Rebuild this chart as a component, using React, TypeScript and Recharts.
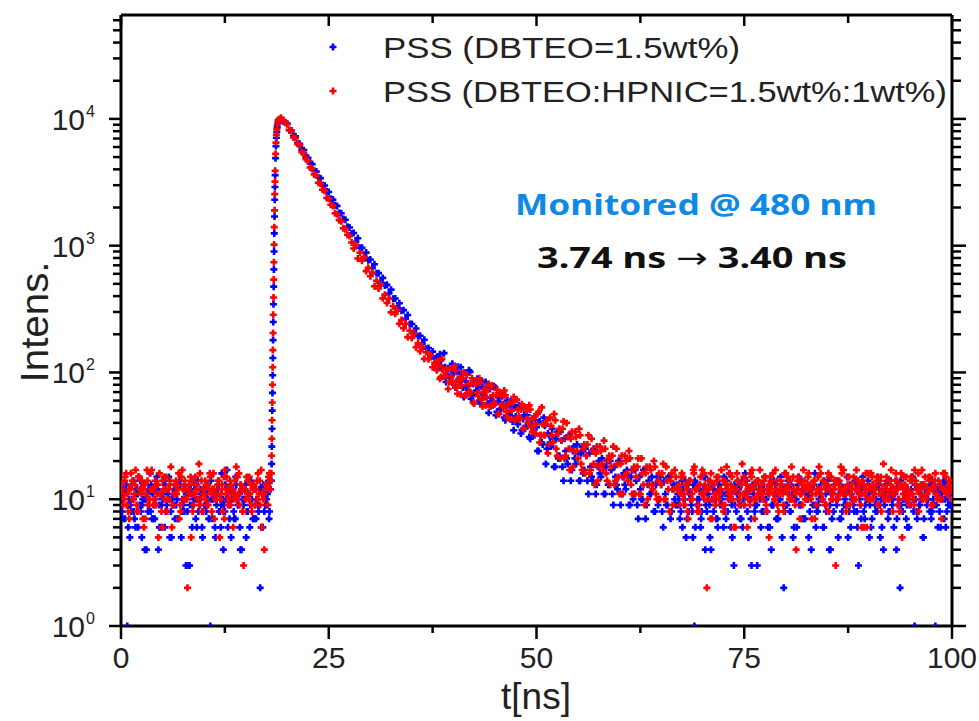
import { ScatterChart, Scatter, XAxis, YAxis } from 'recharts'

// TCSPC decay, one count per channel starting at t = 0
const CHANNEL_NS = 0.25

const blueCounts = [
  9, 12, 7, 1, 10, 8, 14, 6, 11, 9, 5, 13, 10, 8, 16, 7, 9, 12, 4, 11,
  10, 6, 9, 15, 8, 11, 7, 10, 13, 5, 9, 12, 8, 3, 11, 10, 7, 14, 9, 6,
  12, 8, 10, 1, 7, 11, 9, 13, 6, 10, 8, 17, 9, 5, 12, 7, 10, 11, 4, 9,
  13, 8, 6, 10, 12, 7, 9, 2, 11, 8, 10, 14,
  12, 95, 2300, 7900, 9650, 9950, 9600, 9350,
  9170, 8150, 8110, 7350, 7290, 6440, 6360, 5730, 5670, 5000, 4940, 4450, 4400, 3880, 3840, 3450,
  3410, 3010, 2980, 2690, 2650, 2340, 2310, 2080, 2060, 1810, 1800, 1620, 1600, 1410, 1390, 1250,
  1260, 1074, 1145, 963, 961, 811, 882, 769, 778, 665, 714, 605, 607, 512, 557, 485,
  491, 420, 450, 382, 383, 323, 351, 307, 310, 265, 284, 241, 241, 203, 222, 193,
  195, 168, 181, 154, 156, 133, 146, 129, 132, 115, 125, 108, 110, 96, 107, 96,
  103, 76, 111, 85, 97, 64, 85, 73, 101, 66, 86, 72, 78, 57, 84, 64, 74, 48, 63, 55,
  76, 49, 63, 52, 56, 42, 60, 46, 53, 35, 45, 39, 54, 35, 46, 38, 40, 30, 43, 32,
  37, 24, 32, 27, 38, 25, 32, 26,
  30, 18, 34, 22, 29, 14, 24, 19, 32, 17, 26, 19, 23, 14, 26, 17, 22, 11, 18, 14,
  24, 13, 20, 15, 18, 11, 20, 13, 17, 9, 15, 12, 20, 11, 16, 12, 15, 9, 17, 11,
  14, 7, 12, 10, 17, 9, 14, 11, 13, 8, 15, 10, 13, 6, 11, 9, 15, 8, 13, 9,
  11, 7, 14, 9, 5, 12, 10, 8, 1, 13, 9, 6, 11, 15, 8, 10, 4, 12, 9, 7,
  13, 10, 6, 11, 8, 16, 9, 3, 12, 10, 7, 14, 9, 11, 5, 10, 13, 8, 9, 12,
  6, 10, 15, 8, 11, 4, 9, 13, 7, 10, 12, 2, 9, 14, 8, 11, 6, 10, 13, 9,
  7, 12, 10, 5, 11, 9, 16, 8, 10, 13, 6, 9, 12, 4, 11, 8, 14, 10, 7, 12,
  9, 11, 5, 13, 10, 8, 12, 3, 9, 15, 7, 10, 11, 6, 13, 9, 8, 12, 10, 4,
  11, 14, 8, 10, 6, 12, 9, 2, 13, 10, 7, 11, 9, 15, 1, 8, 12, 10, 5, 11,
  9, 13, 7, 10, 1, 12, 8, 11, 14, 6, 10, 9, 12,
]

const redCounts = [
  12, 9, 15, 11, 7, 13, 10, 17, 8, 12, 14, 6, 11, 9, 16, 12, 10, 13, 5, 11,
  14, 10, 8, 12, 18, 9, 11, 13, 7, 15, 10, 12, 2, 11, 14, 9, 13, 10, 16, 8,
  11, 13, 9, 15, 12, 7, 10, 14, 11, 8, 17, 12, 10, 13, 6, 11, 15, 9, 12, 3,
  10, 14, 11, 8, 13, 12, 16, 9, 11, 4, 13, 15,
  14, 110, 2550, 8300, 9950, 10200, 9800, 9330,
  9080, 8190, 8090, 7140, 7060, 6330, 6210, 5450, 5360, 4800, 4710, 4140, 4060, 3650, 3570, 3140,
  3080, 2760, 2710, 2380, 2340, 2100, 2060, 1800, 1770, 1590, 1560, 1370, 1350, 1220, 1190, 1060,
  949, 1018, 792, 879, 762, 812, 630, 669, 574, 613, 478, 529, 460, 493, 384, 411,
  353, 381, 298, 333, 290, 311, 242, 259, 223, 242, 190, 213, 187, 202, 158, 170,
  147, 160, 128, 144, 127, 137, 110, 119, 104, 114, 92, 105, 94, 105, 84, 93,
  82, 103, 68, 91, 79, 100, 66, 81, 68, 90, 57, 81, 65, 83, 54, 74, 64, 81, 54, 66,
  56, 73, 47, 66, 53, 66, 44, 58, 50, 64, 43, 51, 43, 56, 36, 50, 40, 51, 34, 45,
  39, 49, 32, 39, 32, 42, 27, 38,
  28, 42, 22, 36, 29, 41, 22, 31, 17, 34, 24, 31, 21, 32, 17, 27, 22, 32, 17, 24,
  13, 26, 18, 24, 17, 25, 14, 22, 18, 26, 14, 19, 11, 22, 15, 20, 14, 21, 11, 18,
  15, 21, 11, 16, 9, 18, 13, 17, 12, 18, 10, 16, 13, 19, 10, 14, 8, 16, 12, 15,
  12, 9, 16, 11, 13, 7, 14, 10, 18, 12, 8, 15, 11, 13, 2, 12, 16, 10, 9, 14,
  11, 17, 8, 13, 12, 10, 15, 6, 12, 14, 11, 19, 9, 13, 10, 16, 12, 7, 14, 11,
  13, 10, 15, 12, 5, 14, 11, 17, 9, 12, 13, 8, 16, 11, 14, 10, 12, 4, 15, 11,
  9, 14, 12, 16, 10, 13, 7, 12, 18, 11, 14, 9, 13, 15, 10, 12, 3, 14, 11, 16,
  12, 8, 15, 11, 13, 10, 17, 12, 9, 14, 11, 6, 13, 16, 10, 12, 15, 11, 8, 19,
  13, 10, 14, 12, 11, 16, 9, 13, 5, 12, 15, 10, 14, 11, 17, 12, 8, 13, 10, 15,
  11, 14, 9, 12, 16, 10, 13, 7, 12, 15, 11, 14, 10,
]

// in-between channels, 0.25 ns apart, where the record is a wide noisy band:
// before the pulse, the slow part of the decay (from 38.125 ns) and the tail
const blueBgPre = [
  8, 11, 13, 6, 9, 10, 7, 12, 15, 8, 10, 4, 11, 9, 13, 7, 10, 12, 6, 9,
  14, 8, 11, 5, 10, 12, 9, 7, 13, 10, 8, 11, 3, 12, 9, 14, 6, 10, 11, 8,
  9, 13, 7, 10, 12, 5, 11, 8, 16, 9, 10, 6, 12, 11, 7, 13, 9, 4, 10, 12,
  8, 11, 14, 7, 9, 10, 12, 6, 13, 9, 11, 8,
]
const blueBgPre2 = [
  10, 7, 12, 9, 5, 13, 8, 11, 6, 14, 9, 10, 4, 12, 8, 11, 7, 15, 9, 6,
  11, 13, 8, 10, 5, 9, 12, 7, 14, 8, 10, 3, 11, 9, 6, 13, 10, 8, 12, 5,
  9, 11, 7, 14, 10, 6, 12, 8, 9, 4, 13, 11, 7, 10, 8, 15, 9, 6, 12, 10,
  5, 11, 9, 13, 7, 10, 8, 12, 6, 11, 9, 7,
]
const redBgPre = [
  13, 10, 16, 8, 12, 14, 11, 9, 15, 12, 7, 13, 17, 10, 12, 9, 14, 11, 16, 8,
  12, 15, 10, 13, 6, 11, 14, 12, 9, 17, 13, 10, 12, 15, 8, 11, 13, 19, 10, 12,
  14, 9, 12, 11, 16, 10, 13, 5, 12, 15, 11, 9, 14, 12, 10, 18, 11, 13, 8, 12,
  15, 10, 13, 12, 9, 14, 11, 17, 10, 12, 13, 16,
]
const redBgPre2 = [
  11, 14, 9, 12, 16, 10, 13, 8, 15, 11, 12, 7, 14, 10, 17, 12, 9, 13, 11, 6,
  15, 12, 10, 14, 9, 13, 11, 16, 8, 12, 14, 10, 13, 5, 11, 15, 12, 9, 14, 11,
  10, 13, 16, 8, 12, 11, 14, 10, 13, 7, 15, 12, 9, 11, 14, 10, 16, 13, 8, 12,
  11, 15, 9, 13, 12, 10, 14, 6, 11, 13, 9, 12,
]
const blueMid = [
  108, 139, 107, 142, 84, 108, 91, 117, 80, 101, 88, 110, 76, 99, 78, 104, 62, 81, 69, 89,
  60, 77, 67, 84, 57, 74, 59, 78, 46, 59, 51, 65, 44, 55, 48, 59, 41, 53, 42, 55,
  33, 43, 36, 46, 31, 39, 34, 42, 24, 41, 28, 44, 19, 33, 28, 36, 18, 30, 21, 34,
  18, 30, 21, 32, 14, 24, 21, 27, 14, 23, 16, 25, 14, 23, 15, 25, 11, 18, 16, 21,
  11, 18, 13, 20, 11, 18, 13, 20, 9, 15, 13, 17, 9, 15, 10, 17, 9, 15, 10, 17,
  7, 13, 11, 15, 8, 13, 9, 15, 8, 14, 9, 15, 7, 12, 10, 13,
]
const redMid = [
  123, 89, 128, 93, 105, 74, 107, 86, 112, 76, 87, 67, 90, 66, 96, 71, 82, 58, 84, 69,
  90, 61, 70, 55, 73, 54, 79, 58, 66, 47, 69, 56, 72, 49, 56, 43, 58, 42, 61, 45,
  51, 36, 53, 43, 55, 37, 43, 33, 47, 28, 53, 32, 39, 23, 44, 32, 47, 25, 33, 21,
  36, 21, 40, 25, 30, 18, 34, 24, 36, 19, 25, 16, 27, 16, 30, 19, 23, 14, 26, 19,
  29, 16, 20, 13, 22, 13, 25, 15, 19, 11, 22, 16, 24, 13, 17, 11, 18, 11, 21, 13,
  16, 10, 18, 13, 20, 11, 14, 10, 16, 10, 18, 12, 14, 9, 17, 12,
]
const blueBgTail = [
  10, 8, 12, 14, 7, 11, 9, 13, 6, 10, 12, 8, 15, 9, 11, 5, 10, 13, 7, 12,
  9, 11, 8, 14, 10, 6, 12, 9, 11, 13, 7, 10, 16, 8, 12, 3, 11, 9, 14, 10,
  8, 12, 10, 6, 13, 9, 11, 7, 10, 15, 12, 8, 9, 11, 13, 5, 10, 12, 9, 14,
  7, 11, 10, 8, 12, 13, 6, 9, 11, 10, 14, 8, 12, 4, 10, 13, 9, 11, 7, 12,
  10, 15, 8, 11, 9, 13, 6, 10, 12, 8, 11, 14, 9, 7, 12, 10, 13, 5, 11, 9,
  12, 8, 14, 10, 11, 7, 13, 9, 10, 12, 6, 11, 15, 8, 10, 12, 9, 13, 7, 11,
  10, 14, 8, 12, 9, 11, 6, 13, 10, 8, 12, 9,
]
const blueBgTail2 = [
  9, 12, 6, 10, 13, 8, 11, 5, 14, 9, 10, 7, 12, 4, 11, 9, 13, 8, 10, 6,
  12, 9, 15, 7, 11, 10, 5, 13, 8, 12, 9, 6, 11, 14, 10, 7, 12, 9, 3, 11,
  13, 8, 10, 12, 6, 9, 14, 11, 7, 10, 5, 12, 9, 13, 8, 11, 10, 6, 15, 9,
  12, 7, 10, 11, 4, 13, 9, 8, 12, 10, 6, 11, 14, 9, 7, 12, 10, 5, 13, 8,
  11, 9, 12, 6, 10, 14, 8, 11, 7, 13, 9, 10, 5, 12, 11, 8, 15, 9, 6, 10,
  13, 7, 11, 9, 12, 4, 10, 14, 8, 11, 9, 6, 12, 10, 13, 7, 9, 11, 5, 12,
  10, 8, 14, 9, 11, 6, 12, 10, 7, 13, 9, 11,
]
const redBgTail = [
  13, 11, 15, 9, 12, 14, 10, 17, 12, 8, 13, 11, 16, 12, 10, 14, 7, 13, 11, 15,
  12, 9, 14, 18, 11, 13, 10, 12, 16, 9, 13, 11, 14, 6, 12, 15, 10, 13, 11, 17,
  12, 14, 9, 11, 15, 13, 10, 12, 8, 14, 11, 16, 12, 13, 10, 15, 9, 12, 14, 11,
  17, 10, 13, 12, 7, 14, 11, 15, 12, 10, 13, 9, 16, 12, 11, 14, 10, 13, 18, 11,
  12, 9, 15, 13, 10, 12, 14, 11, 6, 13, 16, 10, 12, 15, 11, 13, 9, 14, 12, 10,
  15, 11, 13, 8, 12, 14, 10, 16, 11, 13, 12, 9, 15, 10, 14, 12, 11, 17, 13, 10,
  12, 15, 9, 13, 11, 14, 10, 12, 16, 11, 13, 12,
]
const redBgTail2 = [
  12, 15, 10, 13, 8, 14, 11, 16, 12, 9, 13, 17, 10, 12, 14, 7, 13, 11, 15, 10,
  12, 14, 9, 13, 16, 11, 12, 6, 14, 10, 13, 15, 11, 12, 9, 17, 13, 10, 14, 12,
  11, 15, 8, 13, 12, 16, 10, 14, 11, 13, 9, 12, 15, 10, 18, 12, 11, 14, 7, 13,
  12, 10, 15, 13, 11, 14, 9, 12, 16, 10, 13, 12, 8, 15, 11, 13, 10, 14, 12, 17,
  11, 13, 9, 12, 15, 10, 14, 13, 11, 6, 12, 16, 10, 13, 12, 14, 9, 15, 11, 13,
  12, 10, 17, 11, 14, 12, 8, 13, 15, 10, 12, 11, 14, 9, 13, 16, 12, 10, 13, 11,
  15, 12, 9, 14, 11, 13, 10, 16, 12, 11, 14, 12,
]

// extra points
const riseTimes = [18.1, 18.125, 18.15, 18.175, 18.2, 18.225, 18.275, 18.3, 18.325, 18.35, 18.375, 18.4, 18.425, 18.45, 18.475, 18.525, 18.55, 18.6, 18.65, 18.7, 18.8, 18.9]
const blueRise = [14, 19, 26, 36, 50, 69, 130, 180, 250, 345, 475, 650, 900, 1250, 1700, 2900, 3600, 4900, 6100, 7100, 8600, 9300]
const redRise = [16, 22, 30, 42, 58, 80, 150, 205, 285, 390, 540, 740, 1020, 1400, 1900, 3200, 3900, 5300, 6500, 7500, 9000, 9700]

const seriesNames = ['PSS (DBTEO=1.5wt%)', 'PSS (DBTEO:HPNIC=1.5wt%:1wt%)']
const xMajorTicks = [0, 25, 50, 75, 100]
const xMinorTicks = [12.5, 37.5, 62.5, 87.5]
const yDecades = [1, 10, 100, 1000, 10000]
const Y_MAX = 66000

const BLUE = '#0000ff'
const RED = '#ff0000'
const FONT = '"Liberation Sans", Arial, sans-serif'

const xTicks = [...xMajorTicks, ...xMinorTicks].sort((a, b) => a - b)
const yTicks = yDecades
  .flatMap((d) => [1, 2, 3, 4, 5, 6, 7, 8, 9].map((k) => k * d))
  .filter((v) => v <= Y_MAX)

type Pt = { t: number; c: number }

function bgPoints(start: number, counts: number[]): Pt[] {
  return counts.map((c, i) => ({ t: start + i * CHANNEL_NS, c }))
}

function toPoints(counts: number[], rise: number[], extra: Pt[]) {
  const pts: Pt[] = counts.map((c, i) => ({ t: i * CHANNEL_NS, c }))
  riseTimes.forEach((t, i) => pts.push({ t, c: rise[i] }))
  return [...pts, ...extra].filter((p) => p.c > 0)
}

const bluePoints = toPoints(blueCounts, blueRise, [
  ...bgPoints(0.125, blueBgPre),
  ...bgPoints(0.0625, blueBgPre2),
  ...bgPoints(38.125, blueMid),
  ...bgPoints(67.125, blueBgTail),
  ...bgPoints(67.0625, blueBgTail2),
])
const redPoints = toPoints(redCounts, redRise, [
  ...bgPoints(0.125, redBgPre),
  ...bgPoints(0.1875, redBgPre2),
  ...bgPoints(38.125, redMid),
  ...bgPoints(67.125, redBgTail),
  ...bgPoints(67.1875, redBgTail2),
])

const plusShape = (color: string) => (p: any) => (
  <path
    d={`M${p.cx - 3.5},${p.cy}h7M${p.cx},${p.cy - 3.5}v7`}
    stroke={color}
    strokeWidth={2.6}
    fill="none"
  />
)

function BottomTick({ x, y, payload }: any) {
  const major = xMajorTicks.includes(payload.value)
  return (
    <g>
      <line x1={x} x2={x} y1={y} y2={y + (major ? 13 : 7)} stroke="#000" strokeWidth={2.5} />
      {major && (
        <text x={x} y={y + 42} textAnchor="middle" fontSize={30} fill="#222" fontFamily={FONT}>
          {payload.value}
        </text>
      )}
    </g>
  )
}

function TopTick({ x, y, payload }: any) {
  const major = xMajorTicks.includes(payload.value)
  return <line x1={x} x2={x} y1={y} y2={y + (major ? 11 : 8)} stroke="#000" strokeWidth={2.5} />
}

function LeftTick({ x, y, payload }: any) {
  const v = payload.value
  const major = yDecades.includes(v)
  return (
    <g>
      <line x1={x} x2={x - (major ? 12 : 8)} y1={y} y2={y} stroke="#000" strokeWidth={2.5} />
      {major && (
        <>
          <text x={x - 36} y={y + 11} textAnchor="end" fontSize={30} fill="#222" fontFamily={FONT}>
            10
          </text>
          <text x={x - 35} y={y - 2} fontSize={16} fill="#222" fontFamily={FONT}>
            {Math.round(Math.log10(v))}
          </text>
        </>
      )}
    </g>
  )
}

function RightTick({ x, y, payload }: any) {
  const major = yDecades.includes(payload.value)
  return <line x1={x} x2={x + (major ? 14 : 9)} y1={y} y2={y} stroke="#000" strokeWidth={2.5} />
}

const axisLine = { stroke: '#000', strokeWidth: 3 }

export default function App() {
  return (
    <div style={{ position: 'absolute', left: 0, top: 0, width: 979, height: 721, background: '#fff' }}>
      <ScatterChart width={979} height={721} margin={{ top: 14, right: 26, bottom: 94, left: 120 }}>
        <XAxis
          xAxisId="bottom"
          dataKey="t"
          type="number"
          domain={[0, 100]}
          ticks={xTicks}
          interval={0}
          height={1}
          tickSize={0}
          tickMargin={0}
          tickLine={false}
          axisLine={axisLine}
          tick={<BottomTick />}
          allowDataOverflow
        />
        <XAxis
          xAxisId="top"
          orientation="top"
          dataKey="t"
          type="number"
          domain={[0, 100]}
          ticks={xTicks}
          interval={0}
          height={1}
          tickSize={0}
          tickMargin={0}
          tickLine={false}
          axisLine={axisLine}
          tick={<TopTick />}
          allowDataOverflow
        />
        <YAxis
          yAxisId="left"
          dataKey="c"
          type="number"
          scale="log"
          domain={[1, Y_MAX]}
          ticks={yTicks}
          interval={0}
          width={1}
          tickSize={0}
          tickMargin={0}
          tickLine={false}
          axisLine={axisLine}
          tick={<LeftTick />}
          allowDataOverflow
        />
        <YAxis
          yAxisId="right"
          orientation="right"
          dataKey="c"
          type="number"
          scale="log"
          domain={[1, Y_MAX]}
          ticks={yTicks}
          interval={0}
          width={1}
          tickSize={0}
          tickMargin={0}
          tickLine={false}
          axisLine={axisLine}
          tick={<RightTick />}
          allowDataOverflow
        />
        <Scatter
          name={seriesNames[0]}
          data={bluePoints}
          xAxisId="bottom"
          yAxisId="left"
          shape={plusShape(BLUE)}
          isAnimationActive={false}
        />
        <Scatter
          name={seriesNames[1]}
          data={redPoints}
          xAxisId="bottom"
          yAxisId="left"
          shape={plusShape(RED)}
          isAnimationActive={false}
        />
      </ScatterChart>

      <svg width={979} height={721} style={{ position: 'absolute', left: 0, top: 0, pointerEvents: 'none' }}>
        <text
          transform="translate(48,322) rotate(-90)"
          textAnchor="middle"
          fontSize={38}
          fontFamily={FONT}
          fill="#222"
          textLength={121}
          lengthAdjust="spacingAndGlyphs"
        >
          Intens.
        </text>
        <text x={536} y={709} textAnchor="middle" fontSize={37} fontFamily={FONT} fill="#222">
          t[ns]
        </text>

        <path d="M329.5,47h7M333,43.5v7" stroke={BLUE} strokeWidth={2.6} />
        <text x={383} y={58} fontSize={30} fontFamily={FONT} fill="#222" textLength={357} lengthAdjust="spacingAndGlyphs">
          {seriesNames[0]}
        </text>
        <path d="M329.5,91h7M333,87.5v7" stroke={RED} strokeWidth={2.6} />
        <text x={383} y={102} fontSize={30} fontFamily={FONT} fill="#222" textLength={564} lengthAdjust="spacingAndGlyphs">
          {seriesNames[1]}
        </text>

        <text
          x={515}
          y={215}
          fontSize={28}
          fontWeight={700}
          fontFamily='"Noto Sans", sans-serif'
          fill="#0e8ae6"
          textLength={362}
          lengthAdjust="spacingAndGlyphs"
        >
          Monitored @ 480 nm
        </text>
        <text
          x={537}
          y={268}
          fontSize={29}
          fontWeight={700}
          fontFamily='"Noto Sans", sans-serif'
          fill="#111"
          textLength={310}
          lengthAdjust="spacingAndGlyphs"
        >
          3.74 ns <tspan fontFamily='"DejaVu Sans", sans-serif' fontWeight={400}>→</tspan> 3.40 ns
        </text>
      </svg>
    </div>
  )
}
